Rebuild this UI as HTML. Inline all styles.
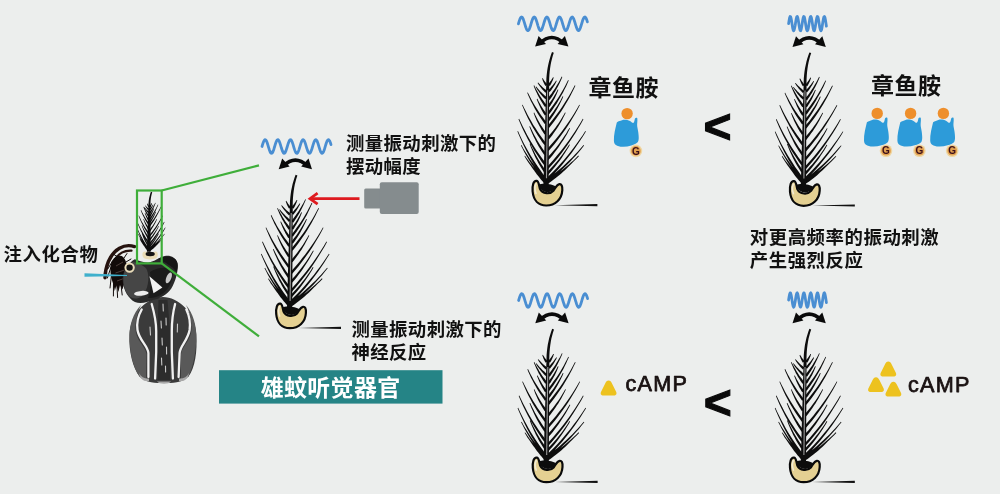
<!DOCTYPE html>
<html lang="zh-CN">
<head>
<meta charset="utf-8">
<title>雄蚊听觉器官</title>
<style>
html,body{margin:0;padding:0;background:#eceeed;}
body{width:1000px;height:494px;overflow:hidden;position:relative;}
svg{position:absolute;left:0;top:0;display:block;filter:blur(0.35px);}
text{font-family:"Liberation Sans","Noto Sans CJK SC",sans-serif;}
.cn{font-weight:700;fill:#111;}
</style>
</head>
<body>
<svg width="1000" height="494" viewBox="0 0 1000 494">
<defs>
  <g id="ant">
    <!-- bulb -->
    <path d="M280.4 303.6 C277 303 275.8 308 276.2 314 C277 323 282 328.2 289.8 328.2 C299 328.2 305.4 322 305.9 313 C306.2 308.5 305 306.5 303 306.8 C300.5 307.2 299.5 310 297 313.5 C294 317 286 317 283.5 311.5 C282.5 308 282.5 304 280.4 303.6Z" fill="#e4d092" stroke="#0a0a0a" stroke-width="2.2" stroke-linejoin="round"/>
    <path d="M282.2 307.5 C284 316.5 296.5 317.5 299.6 309.5 C296 306.5 286 305.5 282.2 307.5Z" fill="#0c0c0c"/>
    <path d="M279.6 306.5 C278.2 309 278.4 313 279.6 316" fill="none" stroke="#f3ecd6" stroke-width="1.6" stroke-linecap="round"/>
    <path d="M298.4 327.9 L341 326.8 L341 328.9Z" fill="#111"/>
    <path d="M289.2 303.6 L287.8 302.4 L286.5 301.1 L285.3 299.8 L284.0 298.5 L282.8 297.2 L281.6 295.9 L280.4 294.5 L279.3 293.1 L278.2 291.6 L277.1 290.2 L276.1 288.7 L275.0 287.2 L274.4 287.6 L275.3 289.2 L276.2 290.8 L277.2 292.3 L278.2 293.9 L279.3 295.4 L280.3 296.9 L281.4 298.3 L282.6 299.8 L283.7 301.2 L284.9 302.6 L286.1 304.0 L287.4 305.4ZM289.2 302.6 L287.2 300.8 L285.4 298.9 L283.5 297.0 L281.7 295.1 L279.9 293.1 L278.2 291.1 L276.5 289.1 L274.8 287.0 L273.2 284.9 L271.6 282.8 L270.1 280.6 L268.6 278.4 L268.0 278.8 L269.4 281.1 L270.8 283.4 L272.3 285.6 L273.8 287.8 L275.3 290.0 L276.9 292.2 L278.6 294.3 L280.2 296.4 L282.0 298.4 L283.7 300.4 L285.6 302.4 L287.4 304.4ZM289.3 301.7 L286.9 299.1 L284.7 296.4 L282.5 293.8 L280.3 291.1 L278.2 288.3 L276.2 285.5 L274.2 282.7 L272.3 279.8 L270.4 276.8 L268.6 273.9 L266.8 270.9 L265.1 267.8 L264.5 268.2 L266.1 271.3 L267.7 274.4 L269.4 277.5 L271.2 280.5 L273.0 283.5 L274.9 286.4 L276.8 289.3 L278.8 292.2 L280.8 295.0 L283.0 297.8 L285.1 300.6 L287.4 303.3ZM289.4 300.3 L286.6 296.6 L284.0 293.0 L281.4 289.3 L278.9 285.5 L276.5 281.7 L274.1 277.9 L271.8 274.0 L269.7 270.1 L267.5 266.1 L265.5 262.1 L263.5 258.0 L261.6 253.8 L261.0 254.2 L262.7 258.3 L264.6 262.5 L266.5 266.6 L268.5 270.7 L270.5 274.7 L272.7 278.7 L274.9 282.7 L277.3 286.6 L279.7 290.4 L282.1 294.2 L284.7 298.0 L287.3 301.7ZM289.6 286.3 L287.0 282.8 L284.4 279.3 L281.9 275.7 L279.5 272.1 L277.1 268.4 L274.8 264.7 L272.6 261.0 L270.5 257.2 L268.5 253.3 L266.5 249.5 L264.6 245.5 L262.7 241.5 L262.1 241.9 L263.8 245.9 L265.5 249.9 L267.4 253.9 L269.3 257.8 L271.3 261.7 L273.4 265.5 L275.6 269.3 L277.8 273.1 L280.2 276.8 L282.6 280.5 L285.0 284.2 L287.6 287.7ZM290.0 266.3 L287.6 263.2 L285.4 260.2 L283.2 257.1 L281.0 254.0 L279.0 250.8 L276.9 247.6 L275.0 244.3 L273.1 241.0 L271.3 237.7 L269.6 234.3 L267.9 230.9 L266.2 227.4 L265.6 227.8 L267.1 231.3 L268.6 234.8 L270.2 238.2 L271.9 241.7 L273.7 245.0 L275.5 248.4 L277.4 251.7 L279.4 255.0 L281.4 258.2 L283.6 261.4 L285.7 264.6 L288.0 267.7ZM290.3 245.2 L288.5 242.9 L286.7 240.5 L284.9 238.2 L283.2 235.7 L281.6 233.3 L280.0 230.8 L278.4 228.3 L276.9 225.7 L275.5 223.1 L274.1 220.5 L272.7 217.8 L271.4 215.1 L270.8 215.5 L271.9 218.2 L273.2 220.9 L274.4 223.7 L275.8 226.3 L277.2 229.0 L278.6 231.6 L280.1 234.2 L281.6 236.8 L283.2 239.3 L284.9 241.8 L286.6 244.3 L288.3 246.8ZM290.6 228.3 L289.4 226.7 L288.2 225.1 L287.0 223.5 L285.8 221.9 L284.7 220.2 L283.6 218.6 L282.6 216.9 L281.6 215.1 L280.6 213.4 L279.6 211.6 L278.7 209.9 L277.8 208.0 L277.2 208.4 L277.9 210.2 L278.7 212.1 L279.5 213.9 L280.4 215.8 L281.3 217.6 L282.2 219.4 L283.2 221.1 L284.2 222.9 L285.3 224.6 L286.4 226.4 L287.5 228.1 L288.6 229.7ZM289.5 293.3 L287.9 291.2 L286.4 289.0 L285.0 286.9 L283.6 284.7 L282.2 282.5 L280.9 280.2 L279.6 277.9 L278.4 275.6 L277.2 273.3 L276.0 271.0 L274.9 268.6 L273.9 266.2 L273.2 266.5 L274.1 268.9 L275.1 271.4 L276.1 273.8 L277.2 276.2 L278.3 278.6 L279.4 281.0 L280.7 283.3 L281.9 285.7 L283.2 288.0 L284.6 290.2 L286.0 292.5 L287.4 294.7ZM289.8 276.3 L288.2 274.1 L286.6 272.0 L285.1 269.8 L283.7 267.6 L282.3 265.4 L280.9 263.1 L279.6 260.8 L278.3 258.5 L277.1 256.1 L275.9 253.8 L274.7 251.3 L273.6 248.9 L272.9 249.2 L273.9 251.7 L274.9 254.2 L276.0 256.6 L277.1 259.1 L278.3 261.5 L279.5 263.9 L280.7 266.3 L282.0 268.6 L283.4 270.9 L284.8 273.2 L286.3 275.5 L287.8 277.7ZM290.2 255.8 L288.9 254.2 L287.8 252.6 L286.6 251.0 L285.5 249.3 L284.4 247.6 L283.4 245.9 L282.4 244.2 L281.4 242.5 L280.5 240.7 L279.6 239.0 L278.7 237.2 L277.8 235.3 L277.2 235.6 L277.9 237.5 L278.6 239.4 L279.4 241.2 L280.2 243.1 L281.1 244.9 L282.0 246.7 L282.9 248.5 L283.9 250.3 L284.9 252.1 L285.9 253.8 L287.0 255.5 L288.1 257.2ZM290.5 236.8 L289.6 235.6 L288.7 234.4 L287.8 233.2 L286.9 231.9 L286.1 230.7 L285.3 229.4 L284.5 228.1 L283.8 226.8 L283.0 225.5 L282.3 224.1 L281.6 222.8 L281.0 221.4 L280.3 221.7 L280.8 223.1 L281.4 224.6 L282.0 226.0 L282.6 227.4 L283.2 228.8 L283.9 230.2 L284.6 231.6 L285.3 232.9 L286.0 234.3 L286.8 235.6 L287.6 236.9 L288.5 238.2ZM290.6 220.1 L289.6 219.3 L288.6 218.5 L287.7 217.6 L286.7 216.8 L285.8 215.9 L284.9 215.0 L284.0 214.1 L283.1 213.2 L282.3 212.2 L281.4 211.3 L280.6 210.3 L279.8 209.3 L279.2 209.7 L279.9 210.8 L280.6 211.9 L281.3 213.0 L282.1 214.0 L282.9 215.1 L283.7 216.1 L284.5 217.1 L285.4 218.1 L286.2 219.1 L287.1 220.1 L288.0 221.0 L288.9 221.9ZM290.7 213.6 L289.9 212.9 L289.1 212.3 L288.3 211.7 L287.5 211.0 L286.8 210.4 L286.0 209.7 L285.3 209.0 L284.6 208.3 L283.9 207.6 L283.2 206.8 L282.5 206.1 L281.8 205.3 L281.2 205.7 L281.8 206.6 L282.3 207.5 L282.9 208.3 L283.6 209.2 L284.2 210.0 L284.8 210.8 L285.5 211.6 L286.2 212.4 L286.9 213.2 L287.6 214.0 L288.3 214.7 L289.1 215.4ZM291.0 207.3 L290.6 206.8 L290.1 206.3 L289.7 205.8 L289.3 205.3 L288.9 204.7 L288.5 204.2 L288.1 203.7 L287.7 203.1 L287.4 202.6 L287.0 202.0 L286.7 201.4 L286.3 200.8 L285.7 201.2 L285.9 201.8 L286.1 202.5 L286.3 203.1 L286.6 203.7 L286.8 204.4 L287.1 205.0 L287.4 205.7 L287.7 206.3 L288.0 206.9 L288.3 207.5 L288.7 208.1 L289.0 208.7ZM291.3 306.6 L293.4 305.2 L295.4 303.8 L297.3 302.3 L299.3 300.8 L301.2 299.3 L303.1 297.8 L304.9 296.2 L306.7 294.5 L308.5 292.9 L310.3 291.2 L312.0 289.4 L313.7 287.7 L313.1 287.1 L311.4 288.8 L309.6 290.4 L307.7 292.0 L305.9 293.5 L304.0 295.0 L302.1 296.5 L300.1 297.9 L298.2 299.3 L296.2 300.6 L294.1 301.9 L292.1 303.2 L290.0 304.4ZM291.4 305.5 L294.2 303.6 L297.0 301.6 L299.7 299.6 L302.5 297.5 L305.1 295.3 L307.7 293.1 L310.3 290.9 L312.8 288.6 L315.3 286.2 L317.7 283.8 L320.1 281.4 L322.5 278.9 L321.9 278.3 L319.5 280.7 L317.0 283.1 L314.5 285.3 L311.9 287.6 L309.3 289.7 L306.7 291.9 L304.0 293.9 L301.3 295.9 L298.5 297.9 L295.7 299.8 L292.9 301.7 L290.0 303.5ZM291.5 304.5 L294.8 301.8 L298.1 299.0 L301.3 296.2 L304.5 293.4 L307.6 290.4 L310.7 287.4 L313.7 284.4 L316.6 281.3 L319.5 278.1 L322.3 274.9 L325.0 271.6 L327.7 268.2 L327.1 267.8 L324.3 271.0 L321.5 274.2 L318.6 277.3 L315.6 280.4 L312.6 283.3 L309.5 286.3 L306.4 289.1 L303.2 291.9 L300.0 294.7 L296.7 297.3 L293.4 300.0 L289.9 302.5ZM291.6 302.9 L295.2 299.2 L298.7 295.4 L302.2 291.6 L305.6 287.7 L308.8 283.7 L312.0 279.7 L315.2 275.6 L318.2 271.4 L321.1 267.2 L324.0 262.9 L326.8 258.6 L329.5 254.2 L328.9 253.8 L326.1 258.1 L323.2 262.3 L320.2 266.5 L317.1 270.6 L314.0 274.7 L310.8 278.6 L307.5 282.6 L304.1 286.4 L300.7 290.2 L297.1 293.9 L293.5 297.5 L289.8 301.1ZM291.8 291.8 L295.2 288.0 L298.5 284.1 L301.8 280.1 L304.9 276.1 L308.0 272.0 L310.9 267.9 L313.8 263.7 L316.6 259.5 L319.4 255.1 L322.0 250.8 L324.6 246.4 L327.0 241.9 L326.4 241.5 L323.8 245.9 L321.1 250.2 L318.4 254.5 L315.5 258.7 L312.6 262.9 L309.6 266.9 L306.6 271.0 L303.4 274.9 L300.2 278.8 L296.9 282.7 L293.5 286.4 L290.0 290.2ZM292.2 273.8 L295.2 270.3 L298.2 266.7 L301.1 263.0 L303.9 259.3 L306.6 255.5 L309.3 251.7 L311.8 247.9 L314.3 243.9 L316.7 240.0 L319.1 236.0 L321.3 231.9 L323.5 227.8 L322.9 227.4 L320.6 231.5 L318.2 235.4 L315.7 239.4 L313.2 243.2 L310.6 247.0 L307.9 250.8 L305.2 254.5 L302.3 258.1 L299.5 261.7 L296.5 265.3 L293.4 268.7 L290.3 272.2ZM292.6 250.8 L295.2 247.5 L297.7 244.2 L300.2 240.8 L302.6 237.3 L304.9 233.9 L307.1 230.4 L309.3 226.8 L311.4 223.2 L313.4 219.6 L315.3 215.9 L317.2 212.1 L319.0 208.4 L318.4 208.0 L316.4 211.7 L314.4 215.4 L312.4 219.0 L310.2 222.5 L308.0 226.0 L305.8 229.5 L303.4 232.9 L301.0 236.2 L298.5 239.5 L296.0 242.8 L293.4 246.0 L290.7 249.2ZM292.9 236.8 L294.8 234.1 L296.7 231.5 L298.5 228.8 L300.3 226.1 L302.0 223.3 L303.6 220.5 L305.2 217.7 L306.8 214.9 L308.2 212.0 L309.7 209.1 L311.0 206.1 L312.3 203.2 L311.7 202.8 L310.2 205.7 L308.7 208.6 L307.2 211.4 L305.6 214.2 L304.0 217.0 L302.3 219.7 L300.5 222.4 L298.7 225.0 L296.8 227.6 L294.9 230.2 L293.0 232.7 L290.9 235.2ZM293.2 222.8 L294.4 220.9 L295.7 219.1 L296.9 217.2 L298.1 215.3 L299.2 213.4 L300.3 211.5 L301.3 209.6 L302.3 207.6 L303.3 205.6 L304.2 203.6 L305.1 201.6 L305.9 199.6 L305.3 199.2 L304.3 201.2 L303.3 203.2 L302.2 205.1 L301.1 207.0 L300.0 208.8 L298.9 210.7 L297.7 212.5 L296.4 214.3 L295.2 216.1 L293.9 217.8 L292.5 219.5 L291.2 221.2ZM291.7 297.4 L293.8 295.1 L295.9 292.7 L297.8 290.4 L299.8 288.0 L301.7 285.5 L303.5 283.1 L305.3 280.6 L307.0 278.0 L308.7 275.4 L310.4 272.8 L312.0 270.2 L313.5 267.5 L312.8 267.1 L311.2 269.7 L309.5 272.3 L307.7 274.8 L306.0 277.3 L304.1 279.7 L302.2 282.1 L300.3 284.4 L298.3 286.8 L296.3 289.0 L294.2 291.3 L292.1 293.5 L289.9 295.6ZM292.0 282.8 L294.1 280.4 L296.2 277.9 L298.2 275.3 L300.1 272.8 L302.0 270.2 L303.8 267.5 L305.6 264.8 L307.4 262.1 L309.0 259.4 L310.7 256.6 L312.2 253.8 L313.7 250.9 L313.1 250.6 L311.4 253.3 L309.8 256.1 L308.0 258.7 L306.2 261.4 L304.4 264.0 L302.5 266.6 L300.6 269.1 L298.6 271.6 L296.6 274.0 L294.5 276.5 L292.3 278.8 L290.2 281.2ZM292.4 262.3 L294.1 260.2 L295.7 258.1 L297.2 256.0 L298.8 253.8 L300.2 251.6 L301.7 249.4 L303.1 247.1 L304.4 244.9 L305.7 242.6 L306.9 240.2 L308.1 237.9 L309.3 235.5 L308.6 235.2 L307.4 237.5 L306.0 239.7 L304.7 242.0 L303.3 244.2 L301.8 246.4 L300.3 248.5 L298.8 250.6 L297.2 252.7 L295.6 254.7 L293.9 256.7 L292.2 258.7 L290.5 260.7ZM292.8 243.8 L294.2 241.9 L295.5 239.9 L296.9 237.9 L298.2 236.0 L299.4 233.9 L300.6 231.9 L301.8 229.8 L302.9 227.8 L303.9 225.7 L305.0 223.5 L306.0 221.4 L306.9 219.2 L306.2 218.9 L305.2 221.0 L304.1 223.1 L302.9 225.1 L301.7 227.1 L300.5 229.1 L299.2 231.0 L297.9 233.0 L296.6 234.9 L295.2 236.8 L293.8 238.6 L292.3 240.4 L290.8 242.2ZM293.0 229.7 L294.0 228.4 L294.8 227.0 L295.7 225.6 L296.5 224.2 L297.3 222.8 L298.1 221.4 L298.8 219.9 L299.5 218.4 L300.2 217.0 L300.8 215.5 L301.4 214.0 L302.0 212.5 L301.3 212.2 L300.6 213.6 L299.9 215.0 L299.1 216.4 L298.3 217.8 L297.5 219.2 L296.7 220.5 L295.8 221.9 L294.9 223.2 L294.0 224.5 L293.0 225.8 L292.0 227.0 L291.0 228.3ZM293.2 214.8 L293.9 214.0 L294.6 213.1 L295.3 212.2 L295.9 211.3 L296.5 210.4 L297.1 209.5 L297.7 208.5 L298.3 207.6 L298.8 206.6 L299.3 205.7 L299.8 204.7 L300.3 203.7 L299.7 203.3 L299.1 204.2 L298.4 205.1 L297.8 206.0 L297.2 206.8 L296.5 207.7 L295.8 208.5 L295.1 209.3 L294.4 210.1 L293.7 210.9 L292.9 211.7 L292.2 212.4 L291.4 213.2ZM293.4 208.7 L293.8 208.1 L294.2 207.4 L294.6 206.7 L295.0 206.0 L295.3 205.3 L295.7 204.5 L296.0 203.8 L296.3 203.1 L296.6 202.4 L296.8 201.6 L297.1 200.9 L297.3 200.1 L296.7 199.9 L296.3 200.5 L295.9 201.2 L295.5 201.8 L295.1 202.5 L294.7 203.1 L294.2 203.7 L293.8 204.3 L293.3 204.9 L292.9 205.5 L292.4 206.1 L291.9 206.7 L291.4 207.3Z" fill="#0d0d0d"/>
    <path d="M292.2 307.5 L292.3 297.6 L292.3 287.6 L292.4 277.7 L292.4 267.7 L292.5 257.8 L292.6 247.8 L292.6 237.9 L292.7 227.9 L292.7 218.0 L292.8 208.0 L289.8 208.0 L289.5 217.9 L289.2 227.9 L289.0 237.8 L288.7 247.8 L288.4 257.7 L288.1 267.7 L287.8 277.6 L287.6 287.6 L287.3 297.5 L287.0 307.5ZM292.8 208.0 L292.7 204.5 L292.8 201.0 L293.0 197.6 L293.3 194.2 L293.7 191.0 L294.2 187.7 L294.8 184.6 L295.6 181.5 L296.4 178.4 L297.4 175.4 L295.6 174.8 L294.5 177.8 L293.5 180.9 L292.6 184.1 L291.9 187.3 L291.2 190.6 L290.7 193.9 L290.3 197.4 L290.0 200.9 L289.9 204.4 L289.8 208.0Z" fill="#0d0d0d"/>
    <path d="M291.2 213 L290.1 301" stroke="#9a9a9a" stroke-width="1.1" fill="none"/>
  </g>
  <g id="arc">
    <path d="M283.5 166 Q295.4 154.4 307.3 166" fill="none" stroke="#0a0a0a" stroke-width="3.5"/>
    <path d="M278.7 169.3 L282.2 158.6 L289.6 166.6Z" fill="#0a0a0a"/>
    <path d="M312 169.3 L308.5 158.6 L301.2 166.6Z" fill="#0a0a0a"/>
  </g>
  <g id="low">
    <use href="#ant"/>
    <use href="#arc"/>
    <path d="M262.0 146.5 L262.5 144.8 L263.0 143.3 L263.5 141.9 L264.0 140.8 L264.5 140.1 L265.0 139.7 L265.5 139.8 L266.0 140.3 L266.5 141.1 L267.0 142.3 L267.5 143.8 L268.0 145.4 L268.5 147.1 L269.0 148.7 L269.5 150.2 L270.0 151.5 L270.5 152.5 L271.0 153.1 L271.5 153.3 L272.0 153.1 L272.5 152.5 L273.0 151.5 L273.5 150.2 L274.0 148.7 L274.5 147.0 L275.0 145.3 L275.5 143.7 L276.0 142.3 L276.5 141.1 L277.0 140.2 L277.5 139.8 L278.0 139.7 L278.5 140.1 L279.0 140.8 L279.5 142.0 L280.0 143.3 L280.5 144.9 L281.0 146.6 L281.5 148.3 L282.0 149.8 L282.5 151.2 L283.0 152.2 L283.5 153.0 L284.0 153.3 L284.5 153.2 L285.0 152.7 L285.5 151.8 L286.0 150.6 L286.5 149.1 L287.0 147.5 L287.5 145.8 L288.0 144.2 L288.5 142.7 L289.0 141.4 L289.5 140.5 L290.0 139.9 L290.5 139.7 L291.0 139.9 L291.5 140.6 L292.0 141.6 L292.5 142.9 L293.0 144.4 L293.5 146.1 L294.0 147.8 L294.5 149.4 L295.0 150.8 L295.5 152.0 L296.0 152.8 L296.5 153.2 L297.0 153.3 L297.5 152.9 L298.0 152.1 L298.5 151.0 L299.0 149.6 L299.5 148.0 L300.0 146.3 L300.5 144.7 L301.0 143.1 L301.5 141.8 L302.0 140.7 L302.5 140.0 L303.0 139.7 L303.5 139.8 L304.0 140.4 L304.5 141.3 L305.0 142.5 L305.5 143.9 L306.0 145.6 L306.5 147.3 L307.0 148.9 L307.5 150.4 L308.0 151.6 L308.5 152.6 L309.0 153.1 L309.5 153.3 L310.0 153.0 L310.5 152.4 L311.0 151.4 L311.5 150.0 L312.0 148.5 L312.5 146.8 L313.0 145.2 L313.5 143.6 L314.0 142.1 L314.5 141.0 L315.0 140.2 L315.5 139.8 L316.0 139.7 L316.5 140.2 L317.0 140.9 L317.5 142.1 L318.0 143.5 L318.5 145.1 L319.0 146.8 L319.5 148.4 L320.0 150.0 L320.5 151.3 L321.0 152.3 L321.5 153.0 L322.0 153.3 L322.5 153.2 L323.0 152.6 L323.5 151.7 L324.0 150.5 L324.5 149.0 L325.0 147.3 L325.5 145.7 L326.0 144.0 L326.5 142.5 L327.0 141.3 L327.5 140.4 L328.0 139.8 L328.5 139.7 L329.0 140.0 L329.5 140.7 L330.0 141.7 L330.5 143.0 L331.0 144.6" fill="none" stroke="#4a8ed2" stroke-width="2.8" stroke-linecap="round" stroke-linejoin="round"/>
  </g>
  <g id="high">
    <use href="#ant"/>
    <use href="#arc"/>
    <path d="M274.8 146.0 L275.3 142.8 L275.8 140.2 L276.3 138.9 L276.8 139.1 L277.3 140.8 L277.8 143.5 L278.3 146.8 L278.8 150.0 L279.3 152.2 L279.8 153.2 L280.3 152.6 L280.8 150.6 L281.4 147.6 L281.9 144.3 L282.4 141.3 L282.9 139.4 L283.4 138.8 L283.9 139.8 L284.4 142.1 L284.9 145.2 L285.4 148.5 L285.9 151.3 L286.4 152.9 L286.9 153.1 L287.4 151.7 L287.9 149.2 L288.4 145.9 L288.9 142.7 L289.4 140.2 L289.9 138.9 L290.4 139.1 L290.9 140.8 L291.4 143.6 L291.9 146.9 L292.4 150.0 L292.9 152.3 L293.4 153.2 L294.0 152.6 L294.5 150.6 L295.0 147.6 L295.5 144.3 L296.0 141.3 L296.5 139.4 L297.0 138.8 L297.5 139.8 L298.0 142.1 L298.5 145.3 L299.0 148.6 L299.5 151.3 L300.0 152.9 L300.5 153.1 L301.0 151.7 L301.5 149.1 L302.0 145.9 L302.5 142.7 L303.0 140.2 L303.5 138.9 L304.0 139.1 L304.5 140.8 L305.0 143.6 L305.5 147.0 L306.0 150.1 L306.6 152.3 L307.1 153.2 L307.6 152.6 L308.1 150.5 L308.6 147.5 L309.1 144.2 L309.6 141.3 L310.1 139.3 L310.6 138.8 L311.1 139.8 L311.6 142.2 L312.1 145.3 L312.6 148.6" fill="none" stroke="#4a8ed2" stroke-width="2.8" stroke-linecap="round" stroke-linejoin="round"/>
  </g>
  <g id="rec">
    <path d="M-10.3 8.8 C-11.5 14 -13.5 21 -13.2 27.2 C-13 29.5 -12.6 30.5 -11.6 31.1 C-9 32.8 -6.5 33.3 -3.7 33.1 C-1 33 1.5 32.6 4.2 31.8 C7 31 9.5 30 10.8 28.5 C12 26 11.6 23 11.4 20.6 C11.2 17.5 10.4 15 10.1 12.7 C9.8 10 10.6 7 10.2 4.6 C9.6 3.8 8.4 4 7.9 4.8 C7.4 6.5 7.2 8.6 6.2 9.4 C5 9.4 4 8 2.9 7.5 C1.2 6.6 -0.8 6.1 -2.4 6.1 C-4.2 6.1 -6 6.8 -7.6 7.5 C-8.6 7.9 -9.6 8.2 -10.3 8.8Z" fill="#2d9bd9"/>
    <circle cx="0" cy="0" r="5.7" fill="#ee8f2c"/>
    <circle cx="8.8" cy="37.3" r="6.3" fill="#efd6a2"/>
    <circle cx="8.8" cy="37.3" r="4.9" fill="#e2a04e"/>
  </g>
  <path id="tri" d="M0 -7.2 C1.6 -7.2 2.6 -6 3.4 -4.4 L7.4 3.6 C8.6 6 7.6 7.6 5.2 7.6 L-5.2 7.6 C-7.6 7.6 -8.6 6 -7.4 3.6 L-3.4 -4.4 C-2.6 -6 -1.6 -7.2 0 -7.2Z" fill="#edc21f"/>
</defs>

<!-- mosquito -->
<g id="mosquito">
  <!-- palps / mouthparts -->
  <g fill="none" stroke="#26130f" stroke-linecap="round">
    <path d="M134.5 246.6 C124 243.2 113.5 249.5 108.4 261.5 C105.8 268 105 274 105 277.8" stroke-width="3.4"/>
    <path d="M131.5 250.6 C123 250.2 116.5 255 113.4 263" stroke-width="2.2"/>
  </g>
  <path d="M118.5 255.5 C113.5 257 110.6 262 110.4 268 C110.2 274 111.6 280 113.6 285 L114.8 291 L116.4 285.5 L118.4 292 L120 285 L122.4 289.5 L124.4 283 C126.8 278 127.6 270 126.6 264 C125.4 258.6 122.4 255 118.5 255.5Z" fill="#120b0a"/>
  <g fill="none" stroke="#120b0a" stroke-width="1" stroke-linecap="round">
    <path d="M112.5 261 L107.8 269 M111 267 L107.4 278 M111.5 275 L110 288 M113.5 283 L113.4 296 M117 286 L117.6 297.5 M121 285 L122.2 295 M119 258 L114 254.5 M124 258 L127 253.5 M126 262 L131 259"/>
  </g>
  <path d="M116 266 L123 262 M115.5 273 L124.5 270 M117 281 L125 278" stroke="#5a4a46" stroke-width="0.8" fill="none"/>
  <!-- thorax -->
  <path d="M163 297 C148 297 131 312 129.5 334 C128.5 352 133 368 139.5 376.5 C146 383 156 383 164 383 C172 383 182 383 188.5 376.5 C195 368 197.5 352 196.3 334 C195 312 178 297 163 297Z" fill="#3b3b3b"/>
  <path d="M141 305 C133 313 129.5 325 129.5 336 C129.5 352 133 367 139.5 376.5 L146 380 L146.5 354 C145 346 136 340 135.5 330 C135 322 137 313 141 305Z" fill="#595959"/>
  <path d="M186 305 C193 313 196.3 325 196.3 336 C196.3 352 193 367 188.5 376.5 L181 380 L181 354 C182.5 346 191 340 191.5 330 C192 322 190 313 186 305Z" fill="#595959"/>
  <path d="M158.5 300 L167.5 300 L170 330 L170 380 L157.5 380 L157.5 330Z" fill="#2c2c2c"/>
  <g fill="none" stroke="#f1f1f1" stroke-width="2.3" stroke-linecap="round">
    <path d="M141.7 309.5 C138 316 136.5 323 137.5 330 C139 340 148 346 148.4 353 L148.4 377"/>
    <path d="M186.3 309.5 C189.5 316 190.5 323 189.6 330 C188 340 180 346 179.6 353 L178.6 377"/>
    <path d="M151.7 304 C154 312 156.2 322 156.2 331 L156.2 352 L155.1 378.5"/>
    <path d="M175.1 304 C173 312 171.8 322 171.8 331 L171.8 352 L172.9 378.5"/>
  </g>
  <g fill="none" stroke="#c9c9c9" stroke-width="1.1" stroke-linecap="round">
    <path d="M163 304 L163.3 311 M161 321 L161.4 328 M166 318 L166.2 325 M162 338 L162.3 345 M166.5 347 L166.6 354 M161.5 358 L161.8 365 M165.5 366 L165.6 372 M150 327 L150.5 335 M177.5 324 L177.3 332"/>
  </g>
  <path d="M139 373 C141 377 145 379 149 378.5 L149 381 C144 382 140 379 139 373Z M189 373 C187 377 183 379 179 378.5 L179 381 C184 382 188 379 189 373Z M157 381.5 L171 381.5 C169 384.5 159 384.5 157 381.5Z" fill="#a9a9a9"/>
  <!-- head -->
  <path d="M134.8 259.3 C140 261 145 263 148.6 262.5 C154 262 160 257 164.8 256.1 C168 255.4 171 256 173.7 257.7 C176.5 259.5 178 262.5 177.8 265.8 C177.8 270 177 274 176.1 277.1 C175 281 173.5 285 171.3 288.5 C167 295 160 298.5 153.5 299.8 C149 301.5 145 303 140.5 303 C136.5 303 133 301.5 130.8 299 C127.5 296 125.5 292 124.3 288.5 C123 285 122.5 281 122.7 277.1 C123 273 124.5 270 126.7 267.4 C129 264 132 260.5 134.8 259.3Z" fill="#2a2a2a"/>
  <path d="M133 262 C139 263 145 266 147 270 C150 278 148 290 142 296 C137 300 131 299 128 295 C123 288 122 278 125 270 C127 266 130 263 133 262Z" fill="#464646"/>
  <path d="M150 272 C156 268 166 266 172 270 C174 278 170 288 163 293.5 C158 297 152 298.5 148 298 C151 290 151.5 280 150 272Z" fill="#1b1b1b"/>
  <path d="M158 259 C163 255.5 172 255.5 175.5 259.5 C178.5 263 178 268 176.5 272 C172 266 165 262 158 259Z" fill="#161616"/>
  <path d="M149.4 276.3 L162.4 287.6 L153.5 293.3Z" fill="#f3f3f3"/>
  <ellipse cx="141.3" cy="293.3" rx="7.3" ry="2.4" transform="rotate(-5 141.3 293.3)" fill="#ececec"/>
  <ellipse cx="168.8" cy="277.9" rx="2.5" ry="5.8" transform="rotate(22 168.8 277.9)" fill="#c9c9c9"/>
  <!-- second antenna socket -->
  <circle cx="129.6" cy="267.6" r="4.2" fill="#161616" stroke="#e9dcba" stroke-width="2"/>
</g>
<!-- needle -->
<path d="M84.5 273.3 L127 275 L127 276 L84.5 276.7Z" fill="#3fb0cc"/>

<!-- small antenna on mosquito -->
<path d="M142.4 254.6 C142.4 250.6 146 251.2 147.2 252.6 L153.4 252.6 C154.6 251.2 157.8 250.6 157.8 254.6 C157.8 258.6 154.6 259.4 150.1 259.4 C145.6 259.4 142.4 258.6 142.4 254.6Z" fill="#e9dcb6"/>
<ellipse cx="150.2" cy="254" rx="4.6" ry="2.2" fill="#141414"/>
<g transform="translate(151.6 191.9) scale(0.42 0.452) translate(-296.5 -175.1)"><path d="M289.6 303.2 L288.2 302.0 L286.9 300.8 L285.6 299.5 L284.4 298.2 L283.1 296.9 L281.9 295.6 L280.8 294.2 L279.6 292.9 L278.5 291.5 L277.3 290.0 L276.3 288.6 L275.2 287.1 L274.2 287.7 L275.1 289.3 L276.0 290.9 L277.0 292.5 L278.0 294.1 L279.0 295.6 L280.0 297.1 L281.1 298.6 L282.2 300.1 L283.4 301.6 L284.5 303.0 L285.7 304.4 L287.0 305.8ZM289.6 302.2 L287.6 300.4 L285.7 298.6 L283.9 296.7 L282.0 294.8 L280.3 292.9 L278.5 290.9 L276.8 288.9 L275.1 286.8 L273.5 284.7 L271.9 282.6 L270.3 280.5 L268.8 278.3 L267.8 278.9 L269.1 281.2 L270.5 283.5 L272.0 285.8 L273.5 288.0 L275.0 290.2 L276.6 292.4 L278.2 294.6 L279.9 296.7 L281.6 298.8 L283.4 300.8 L285.2 302.8 L287.0 304.8ZM289.7 301.3 L287.4 298.7 L285.1 296.1 L282.9 293.5 L280.7 290.8 L278.6 288.0 L276.5 285.3 L274.5 282.4 L272.6 279.6 L270.7 276.7 L268.8 273.7 L267.1 270.8 L265.3 267.7 L264.3 268.3 L265.8 271.4 L267.4 274.5 L269.1 277.6 L270.9 280.7 L272.7 283.7 L274.5 286.6 L276.4 289.6 L278.4 292.5 L280.4 295.3 L282.5 298.2 L284.7 301.0 L286.9 303.7ZM289.8 299.9 L287.1 296.3 L284.4 292.7 L281.8 289.0 L279.3 285.3 L276.8 281.5 L274.5 277.7 L272.2 273.8 L270.0 269.9 L267.8 266.0 L265.8 261.9 L263.8 257.9 L261.8 253.8 L260.8 254.2 L262.5 258.5 L264.3 262.6 L266.2 266.8 L268.2 270.9 L270.2 274.9 L272.4 278.9 L274.6 282.9 L276.9 286.8 L279.2 290.7 L281.7 294.5 L284.2 298.3 L286.9 302.1ZM290.1 285.9 L287.4 282.4 L284.8 279.0 L282.3 275.4 L279.9 271.8 L277.5 268.2 L275.2 264.5 L273.0 260.8 L270.8 257.0 L268.7 253.2 L266.7 249.3 L264.8 245.4 L262.9 241.5 L261.9 241.9 L263.5 246.0 L265.3 250.0 L267.1 254.0 L269.0 258.0 L271.0 261.9 L273.1 265.7 L275.2 269.6 L277.4 273.4 L279.7 277.1 L282.1 280.8 L284.6 284.5 L287.1 288.1ZM290.4 265.9 L288.1 262.9 L285.8 259.9 L283.6 256.8 L281.4 253.7 L279.3 250.6 L277.3 247.4 L275.3 244.1 L273.4 240.9 L271.6 237.6 L269.8 234.2 L268.1 230.8 L266.4 227.4 L265.4 227.8 L266.8 231.4 L268.4 234.9 L270.0 238.4 L271.6 241.8 L273.4 245.2 L275.2 248.6 L277.1 251.9 L279.0 255.3 L281.0 258.5 L283.1 261.8 L285.3 265.0 L287.5 268.1ZM290.8 244.9 L288.9 242.6 L287.1 240.2 L285.4 237.9 L283.6 235.5 L282.0 233.0 L280.3 230.6 L278.8 228.1 L277.3 225.5 L275.8 223.0 L274.4 220.4 L273.0 217.7 L271.6 215.1 L270.6 215.5 L271.7 218.3 L272.9 221.1 L274.2 223.8 L275.5 226.5 L276.8 229.2 L278.2 231.8 L279.7 234.4 L281.2 237.0 L282.8 239.6 L284.4 242.1 L286.1 244.6 L287.9 247.1ZM291.1 227.9 L289.9 226.4 L288.6 224.8 L287.4 223.2 L286.2 221.6 L285.1 220.0 L284.0 218.3 L282.9 216.7 L281.9 215.0 L280.9 213.3 L279.9 211.5 L279.0 209.8 L278.0 208.0 L277.0 208.4 L277.7 210.3 L278.4 212.2 L279.3 214.1 L280.1 215.9 L281.0 217.8 L281.9 219.6 L282.8 221.4 L283.8 223.2 L284.9 224.9 L285.9 226.7 L287.0 228.4 L288.2 230.1ZM290.0 292.9 L288.4 290.9 L286.9 288.7 L285.4 286.6 L284.0 284.4 L282.6 282.2 L281.2 280.0 L279.9 277.8 L278.7 275.5 L277.5 273.2 L276.3 270.8 L275.2 268.5 L274.1 266.1 L273.0 266.5 L273.9 269.0 L274.8 271.5 L275.8 274.0 L276.8 276.4 L277.9 278.8 L279.1 281.2 L280.3 283.6 L281.5 285.9 L282.8 288.2 L284.1 290.5 L285.5 292.8 L286.9 295.1ZM290.3 275.9 L288.7 273.8 L287.1 271.7 L285.6 269.5 L284.1 267.4 L282.7 265.1 L281.3 262.9 L279.9 260.6 L278.6 258.3 L277.3 256.0 L276.1 253.6 L275.0 251.2 L273.8 248.8 L272.7 249.3 L273.7 251.8 L274.7 254.3 L275.7 256.8 L276.8 259.2 L277.9 261.7 L279.1 264.1 L280.4 266.5 L281.6 268.8 L283.0 271.2 L284.4 273.5 L285.8 275.8 L287.3 278.1ZM290.7 255.4 L289.4 253.9 L288.2 252.3 L287.1 250.7 L285.9 249.1 L284.8 247.4 L283.8 245.7 L282.7 244.0 L281.7 242.3 L280.8 240.6 L279.8 238.8 L278.9 237.1 L278.1 235.2 L276.9 235.7 L277.6 237.6 L278.4 239.5 L279.1 241.4 L279.9 243.2 L280.7 245.1 L281.6 246.9 L282.5 248.7 L283.5 250.5 L284.5 252.3 L285.5 254.1 L286.5 255.8 L287.6 257.6ZM291.0 236.4 L290.0 235.3 L289.1 234.1 L288.2 232.9 L287.3 231.7 L286.5 230.4 L285.7 229.2 L284.9 227.9 L284.1 226.6 L283.3 225.3 L282.6 224.0 L281.9 222.7 L281.2 221.3 L280.1 221.8 L280.6 223.2 L281.1 224.7 L281.7 226.1 L282.3 227.5 L282.9 229.0 L283.5 230.4 L284.2 231.8 L284.9 233.2 L285.6 234.5 L286.4 235.9 L287.2 237.2 L288.0 238.6ZM291.0 219.6 L290.0 218.8 L289.0 218.1 L288.0 217.3 L287.1 216.4 L286.1 215.6 L285.2 214.7 L284.3 213.9 L283.4 213.0 L282.5 212.0 L281.7 211.1 L280.8 210.1 L280.0 209.2 L279.0 209.8 L279.7 211.0 L280.4 212.1 L281.1 213.2 L281.8 214.3 L282.6 215.3 L283.4 216.4 L284.2 217.4 L285.0 218.4 L285.9 219.4 L286.7 220.4 L287.6 221.4 L288.5 222.4ZM291.1 213.1 L290.3 212.5 L289.5 211.9 L288.7 211.3 L287.9 210.7 L287.1 210.1 L286.3 209.4 L285.6 208.7 L284.8 208.1 L284.1 207.4 L283.4 206.6 L282.7 205.9 L282.0 205.1 L281.0 205.9 L281.6 206.8 L282.1 207.6 L282.7 208.5 L283.3 209.4 L283.9 210.2 L284.5 211.1 L285.2 211.9 L285.9 212.7 L286.5 213.6 L287.2 214.4 L288.0 215.1 L288.7 215.9ZM291.5 206.9 L291.0 206.4 L290.6 206.0 L290.1 205.5 L289.7 205.0 L289.3 204.5 L288.9 204.0 L288.5 203.5 L288.1 203.0 L287.7 202.4 L287.3 201.9 L286.9 201.3 L286.5 200.8 L285.5 201.2 L285.6 201.9 L285.8 202.6 L286.0 203.2 L286.3 203.9 L286.5 204.6 L286.7 205.2 L287.0 205.9 L287.3 206.5 L287.6 207.2 L287.9 207.8 L288.2 208.5 L288.5 209.1ZM291.7 307.1 L293.7 305.7 L295.7 304.2 L297.6 302.7 L299.6 301.2 L301.5 299.7 L303.3 298.1 L305.2 296.5 L307.0 294.8 L308.7 293.1 L310.5 291.4 L312.2 289.6 L313.8 287.8 L313.0 287.0 L311.2 288.6 L309.4 290.2 L307.5 291.8 L305.6 293.3 L303.7 294.7 L301.8 296.2 L299.9 297.6 L297.9 298.9 L295.9 300.2 L293.8 301.5 L291.8 302.7 L289.7 303.9ZM291.7 306.0 L294.5 304.1 L297.3 302.1 L300.0 300.0 L302.7 297.9 L305.4 295.7 L308.0 293.4 L310.6 291.2 L313.1 288.8 L315.5 286.5 L317.9 284.0 L320.3 281.5 L322.6 279.0 L321.8 278.2 L319.3 280.6 L316.8 282.9 L314.3 285.1 L311.7 287.3 L309.1 289.5 L306.4 291.5 L303.7 293.6 L301.0 295.6 L298.2 297.5 L295.4 299.4 L292.6 301.2 L289.7 303.0ZM291.8 305.0 L295.2 302.2 L298.5 299.5 L301.7 296.6 L304.8 293.7 L307.9 290.8 L311.0 287.7 L313.9 284.7 L316.8 281.5 L319.7 278.3 L322.5 275.1 L325.2 271.7 L327.9 268.4 L326.9 267.6 L324.1 270.8 L321.3 274.0 L318.4 277.1 L315.4 280.1 L312.3 283.1 L309.3 286.0 L306.1 288.8 L302.9 291.6 L299.7 294.3 L296.4 296.9 L293.0 299.5 L289.6 302.0ZM292.0 303.3 L295.6 299.6 L299.1 295.8 L302.6 291.9 L305.9 288.0 L309.2 284.0 L312.4 279.9 L315.5 275.8 L318.5 271.6 L321.4 267.4 L324.3 263.1 L327.0 258.7 L329.7 254.3 L328.7 253.7 L325.8 258.0 L322.9 262.2 L319.9 266.3 L316.8 270.4 L313.7 274.4 L310.4 278.4 L307.1 282.3 L303.7 286.1 L300.3 289.8 L296.7 293.5 L293.1 297.1 L289.4 300.7ZM292.3 292.2 L295.7 288.4 L299.0 284.4 L302.2 280.5 L305.3 276.4 L308.3 272.3 L311.3 268.1 L314.2 263.9 L316.9 259.7 L319.6 255.3 L322.2 250.9 L324.8 246.5 L327.2 242.0 L326.2 241.4 L323.6 245.8 L320.9 250.1 L318.1 254.3 L315.2 258.5 L312.3 262.6 L309.3 266.7 L306.2 270.7 L303.0 274.6 L299.8 278.5 L296.5 282.3 L293.1 286.1 L289.6 289.8ZM292.6 274.2 L295.6 270.7 L298.6 267.0 L301.5 263.3 L304.2 259.6 L307.0 255.8 L309.6 252.0 L312.1 248.1 L314.6 244.1 L317.0 240.1 L319.3 236.1 L321.6 232.0 L323.7 227.9 L322.7 227.3 L320.3 231.3 L317.9 235.3 L315.5 239.2 L312.9 243.0 L310.3 246.8 L307.6 250.6 L304.8 254.2 L302.0 257.8 L299.1 261.4 L296.1 264.9 L293.0 268.4 L289.9 271.8ZM293.1 251.2 L295.7 247.9 L298.2 244.5 L300.6 241.1 L303.0 237.6 L305.2 234.1 L307.5 230.6 L309.6 227.0 L311.7 223.4 L313.7 219.7 L315.6 216.0 L317.5 212.3 L319.2 208.5 L318.2 207.9 L316.2 211.6 L314.2 215.2 L312.1 218.8 L309.9 222.3 L307.7 225.8 L305.4 229.2 L303.0 232.6 L300.6 236.0 L298.1 239.2 L295.6 242.5 L292.9 245.7 L290.2 248.8ZM293.4 237.1 L295.3 234.5 L297.1 231.8 L298.9 229.1 L300.7 226.3 L302.4 223.5 L304.0 220.7 L305.6 217.9 L307.1 215.0 L308.5 212.1 L309.9 209.2 L311.3 206.2 L312.5 203.3 L311.5 202.7 L310.0 205.6 L308.5 208.5 L306.9 211.3 L305.3 214.0 L303.6 216.8 L301.9 219.5 L300.1 222.1 L298.3 224.7 L296.4 227.3 L294.5 229.9 L292.5 232.4 L290.4 234.9ZM293.6 223.1 L294.9 221.3 L296.1 219.4 L297.3 217.5 L298.4 215.6 L299.6 213.7 L300.6 211.7 L301.6 209.8 L302.6 207.8 L303.6 205.8 L304.5 203.7 L305.3 201.7 L306.1 199.6 L305.1 199.2 L304.0 201.1 L303.0 203.0 L301.9 204.9 L300.8 206.8 L299.7 208.7 L298.5 210.5 L297.3 212.3 L296.0 214.0 L294.8 215.8 L293.4 217.5 L292.1 219.2 L290.7 220.9ZM292.2 297.8 L294.2 295.5 L296.3 293.1 L298.2 290.7 L300.2 288.3 L302.0 285.8 L303.8 283.3 L305.6 280.8 L307.3 278.2 L309.0 275.6 L310.6 273.0 L312.2 270.3 L313.7 267.6 L312.7 267.0 L311.0 269.6 L309.3 272.1 L307.5 274.6 L305.7 277.1 L303.8 279.5 L301.9 281.8 L299.9 284.2 L297.9 286.4 L295.9 288.7 L293.8 290.9 L291.7 293.1 L289.5 295.2ZM292.5 283.2 L294.5 280.8 L296.6 278.2 L298.6 275.7 L300.5 273.1 L302.4 270.4 L304.2 267.8 L305.9 265.1 L307.7 262.3 L309.3 259.5 L310.9 256.7 L312.4 253.9 L313.9 251.0 L312.9 250.5 L311.2 253.2 L309.5 255.9 L307.8 258.6 L305.9 261.2 L304.1 263.8 L302.2 266.3 L300.2 268.8 L298.2 271.3 L296.2 273.7 L294.1 276.1 L291.9 278.4 L289.7 280.8ZM292.9 262.7 L294.5 260.6 L296.1 258.5 L297.6 256.3 L299.1 254.1 L300.6 251.9 L302.0 249.6 L303.4 247.4 L304.7 245.1 L306.0 242.7 L307.2 240.4 L308.4 238.0 L309.5 235.6 L308.4 235.1 L307.1 237.3 L305.8 239.6 L304.4 241.8 L303.0 244.0 L301.5 246.1 L300.0 248.3 L298.4 250.3 L296.8 252.4 L295.2 254.4 L293.5 256.4 L291.8 258.4 L290.0 260.3ZM293.2 244.1 L294.6 242.2 L296.0 240.2 L297.3 238.2 L298.5 236.2 L299.8 234.2 L300.9 232.1 L302.1 230.0 L303.2 227.9 L304.2 225.8 L305.2 223.7 L306.2 221.5 L307.1 219.3 L306.0 218.8 L304.9 220.9 L303.8 222.9 L302.6 224.9 L301.4 226.9 L300.2 228.9 L298.9 230.8 L297.5 232.7 L296.2 234.6 L294.8 236.5 L293.3 238.3 L291.9 240.1 L290.3 241.9ZM293.5 230.1 L294.4 228.7 L295.3 227.3 L296.1 225.9 L296.9 224.5 L297.7 223.0 L298.4 221.6 L299.1 220.1 L299.8 218.6 L300.5 217.1 L301.1 215.6 L301.7 214.1 L302.2 212.6 L301.1 212.1 L300.4 213.5 L299.6 214.9 L298.8 216.3 L298.0 217.7 L297.2 219.0 L296.3 220.3 L295.4 221.6 L294.5 222.9 L293.5 224.2 L292.6 225.4 L291.6 226.7 L290.5 227.9ZM293.7 215.2 L294.3 214.4 L295.0 213.5 L295.7 212.5 L296.3 211.6 L296.9 210.7 L297.5 209.7 L298.0 208.7 L298.6 207.8 L299.1 206.8 L299.6 205.8 L300.1 204.8 L300.5 203.8 L299.5 203.2 L298.8 204.1 L298.2 205.0 L297.5 205.8 L296.9 206.6 L296.2 207.5 L295.5 208.3 L294.8 209.0 L294.0 209.8 L293.3 210.6 L292.5 211.3 L291.7 212.0 L290.9 212.8ZM293.9 209.1 L294.3 208.4 L294.7 207.7 L295.0 206.9 L295.4 206.2 L295.7 205.5 L296.0 204.7 L296.3 204.0 L296.6 203.3 L296.9 202.5 L297.1 201.8 L297.3 201.0 L297.6 200.2 L296.4 199.8 L296.0 200.4 L295.6 201.1 L295.2 201.7 L294.8 202.3 L294.3 202.9 L293.9 203.5 L293.4 204.1 L292.9 204.7 L292.5 205.3 L292.0 205.8 L291.5 206.4 L290.9 206.9Z" fill="#0d0d0d"/><path d="M294.0 307.6 L294.0 297.6 L294.0 287.7 L294.0 277.7 L294.0 267.8 L293.9 257.8 L293.9 247.9 L293.9 237.9 L293.9 227.9 L293.9 218.0 L293.8 208.0 L288.8 208.0 L288.4 217.9 L288.0 227.9 L287.7 237.8 L287.3 247.7 L287.0 257.7 L286.6 267.6 L286.3 277.6 L285.9 287.5 L285.5 297.5 L285.2 307.4ZM293.8 208.0 L293.8 204.5 L293.8 201.0 L293.9 197.7 L294.1 194.4 L294.5 191.1 L295.0 187.9 L295.6 184.8 L296.3 181.7 L297.1 178.6 L298.0 175.6 L295.0 174.6 L293.8 177.6 L292.8 180.7 L291.9 183.9 L291.1 187.1 L290.4 190.4 L289.8 193.8 L289.4 197.3 L289.1 200.8 L288.8 204.4 L288.8 208.0Z" fill="#0d0d0d"/></g>
<!-- green box & lines -->
<g fill="none" stroke="#3fae3a" stroke-width="2.2" stroke-linejoin="miter">
  <rect x="137" y="190.5" width="24.7" height="72.9"/>
  <path d="M161.7 190.5 L259 165.4"/>
  <path d="M161.7 263.4 L259 336.3"/>
</g>

<!-- centre antenna -->
<use href="#low"/>
<!-- red arrow -->
<g stroke="#de1a1f" stroke-width="2.8" fill="none" stroke-linecap="butt">
  <path d="M359.5 198.7 L311 198.7"/>
  <path d="M317.6 193.2 L310 198.7 L317.6 204.2" stroke-linejoin="miter"/>
</g>
<!-- camera -->
<rect x="364.2" y="188.5" width="17" height="20" rx="1.5" fill="#858c8e"/>
<rect x="379.8" y="182.3" width="38.9" height="31.8" rx="2" fill="#858c8e"/>

<!-- banner -->
<rect x="219" y="370.2" width="223.5" height="33.4" fill="#258486"/>
<text x="330.6" y="395.6" font-size="23" font-weight="700" fill="#ffffff" text-anchor="middle" letter-spacing="0.3">雄蚊听觉器官</text>

<!-- labels -->
<text class="cn" x="3.6" y="261.4" font-size="18.4" letter-spacing="0.6">注入化合物</text>
<text class="cn" x="346" y="149.8" font-size="18.4" letter-spacing="0.4">测量振动刺激下的</text>
<text class="cn" x="346" y="172.5" font-size="18.4" letter-spacing="0.4">摆动幅度</text>
<text class="cn" x="351.5" y="335.8" font-size="18.4" letter-spacing="0.4">测量振动刺激下的</text>
<text class="cn" x="351.5" y="358.6" font-size="18.4" letter-spacing="0.4">神经反应</text>

<!-- top middle -->
<use href="#low" transform="translate(256.4 -122.7)"/>
<text class="cn" x="588.6" y="95.6" font-size="23" letter-spacing="0.5">章鱼胺</text>
<use href="#rec" transform="translate(627.1 113.6)"/>
<text x="635.9" y="154.5" font-size="10" font-weight="700" text-anchor="middle" fill="#3a0f1c">G</text>
<text x="703.4" y="142.6" font-size="48" font-weight="700" fill="#0a0a0a" stroke="#0a0a0a" stroke-width="1.1">&lt;</text>

<!-- top right -->
<use href="#high" transform="translate(513.8 -122.4)"/>
<text class="cn" x="871" y="93.6" font-size="23" letter-spacing="0.5">章鱼胺</text>
<use href="#rec" transform="translate(877.2 113.4)"/>
<text x="886.0" y="154.3" font-size="10" font-weight="700" text-anchor="middle" fill="#3a0f1c">G</text>
<use href="#rec" transform="translate(910.6 113.4)"/>
<text x="919.4" y="154.3" font-size="10" font-weight="700" text-anchor="middle" fill="#3a0f1c">G</text>
<use href="#rec" transform="translate(943.4 113.4)"/>
<text x="952.2" y="154.3" font-size="10" font-weight="700" text-anchor="middle" fill="#3a0f1c">G</text>
<text class="cn" x="749.8" y="243.6" font-size="18.4" letter-spacing="0.55">对更高频率的振动刺激</text>
<text class="cn" x="749.8" y="266.5" font-size="18.4" letter-spacing="0.55">产生强烈反应</text>

<!-- bottom middle -->
<use href="#low" transform="translate(256.6 154)"/>
<use href="#tri" transform="translate(608.6 387.8)"/>
<text x="625.5" y="391.4" font-size="21.6" fill="#1a1212" stroke="#1a1212" stroke-width="0.75" letter-spacing="1.3" stroke-linejoin="round">cAMP</text>
<text x="703.8" y="418.9" font-size="48" font-weight="700" fill="#0a0a0a" stroke="#0a0a0a" stroke-width="1.1">&lt;</text>

<!-- bottom right -->
<use href="#high" transform="translate(513.8 154)"/>
<use href="#tri" transform="translate(888.3 368.8)"/>
<use href="#tri" transform="translate(876 384.4)"/>
<use href="#tri" transform="translate(893.4 389)"/>
<text x="908" y="391.9" font-size="21.6" fill="#1a1212" stroke="#1a1212" stroke-width="0.75" letter-spacing="1.3" stroke-linejoin="round">cAMP</text>
</svg>
</body>
</html>
